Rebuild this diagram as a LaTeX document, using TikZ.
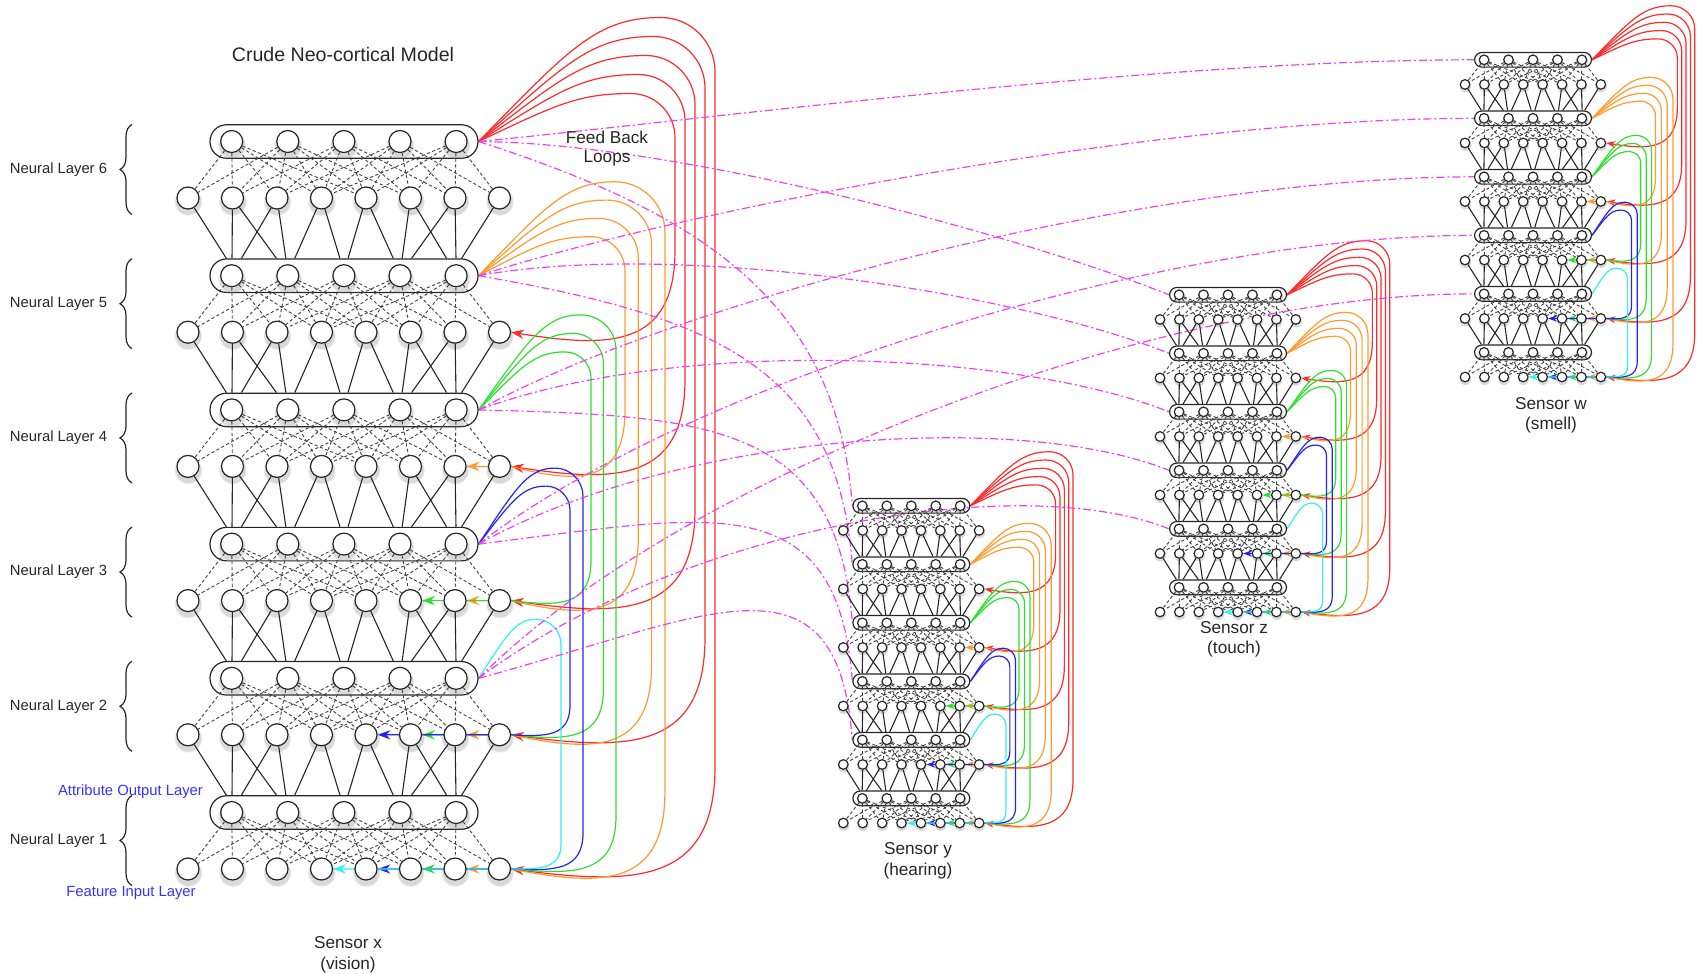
\documentclass[tikz,border=0pt]{standalone}
\usepackage{fontspec}
\setmainfont{Liberation Sans}
\usetikzlibrary{arrows.meta, positioning, calc, shadows, decorations.pathreplacing}

\definecolor{lred}{HTML}{FF2A2A}
\definecolor{lorange}{HTML}{FF9A2E}
\definecolor{lgreen}{HTML}{2EE02E}
\definecolor{lblue}{HTML}{2424F0}
\definecolor{lcyan}{HTML}{30F0F0}
\definecolor{lmagenta}{HTML}{F040F0}
\definecolor{labblue}{HTML}{3333FF}

\pgfdeclarelayer{back}
\pgfsetlayers{back,main}

\tikzset{
  unit/.style={circle, draw=black!85, line width=0.6pt, fill=white, inner sep=0pt,
    minimum size=\s*11pt,
    circular drop shadow={shadow xshift=0pt, shadow yshift=\shy pt, shadow scale=1.3, opacity=0.3}},
  outbox/.style={rectangle, draw=black!85, line width=0.6pt, inner sep=0pt,
    minimum width=\s*134pt, minimum height=\s*16.75pt, rounded corners=\s*8.3pt},
  link/.style={black!75, line width=0.45pt, dash pattern=on 1.6pt off 1.2pt},
  wire/.style={black!85, line width=0.55pt},
  fbloop/.style={draw=#1, line width=0.6pt, -{Stealth[length=\arl pt, width=\arw pt]}},
  feed/.style={lmagenta, line width=0.6pt, dash pattern=on 4pt off 1.5pt on 1pt off 1.5pt},
  lbl/.style={text=black!85, font=\fontsize{7.4pt}{9pt}\selectfont, inner sep=0pt},
  sensor/.style={text=black!85, font=\fontsize{8.6pt}{10pt}\selectfont, inner sep=0pt},
  brace/.style={decorate, decoration={brace, amplitude=6pt}, line width=0.6pt, black!85}
}

% feedback loops of one stack (uses \ox, \oy, \s)
\newcommand\drawloops[1]{%
  \pgfmathsetmacro\arl{3.2+3.2*\s}%
  \pgfmathsetmacro\arw{2.3+2.3*\s}%
  \foreach \ly/\col/\pa/\pb/\pc/\qa/\qb/\qc/\dd in {6/lred/153/48/197/7.5/19/10/8,5/lorange/113/39/147/8/18.3/13.3/9,4/lgreen/87/58/113/8/18.5/12.5/3,3/lblue/68/58/92/9/18/13/1,2/lcyan/58/59/83/0/0/0/0}{%
    \pgfmathtruncatemacro\kmax{\ly-1}%
    \pgfmathtruncatemacro\tc{\ly+2}%
    \pgfmathsetmacro\Sx{\ox+\s*290}%
    \pgfmathsetmacro\Sy{\oy-\s*((\ly-1)*134.2+56.5)}%
    \foreach \k in {1,...,\kmax}{%
      \pgfmathtruncatemacro\Tl{\ly-\k}%
      \pgfmathsetmacro\pdx{\s*(\pa+\qa*(\k-1))}%
      \pgfmathsetmacro\ph{\s*(\pb+\qb*(\k-1))}%
      \pgfmathsetmacro\Xv{\Sx+\s*(\pc+\qc*(\k-1))}%
      \pgfmathsetmacro\rr{\Xv-\Sx-\pdx}%
      \pgfmathsetmacro\Ty{\oy-\s*(\Tl-1)*134.2}%
      \pgfmathsetmacro\Xe{\ox+\s*322.5}%
      \pgfmathsetmacro\Rr{0.5*(\Xv-\Xe)}%
      \pgfmathsetmacro\Yb{\Ty+2*\s*\dd}%
      \ifnum\tc=8 \def\tail{}\else\edef\tail{-- (#1-\Tl-i\tc.east)}\fi
      \draw[fbloop=\col] (#1-\ly-o.east)
        .. controls ({\Sx+0.5*\pdx},{\Sy-0.75*\ph}) and ({\Sx+0.65*\pdx},{\Sy-\ph}) .. ({\Sx+\pdx},{\Sy-\ph})
        .. controls ({\Sx+\pdx+0.55*\rr},{\Sy-\ph}) and ({\Xv},{\Sy-\ph+0.45*\rr}) .. ({\Xv},{\Sy-\ph+\rr})
        -- ({\Xv},{\Ty-\Rr})
        .. controls ({\Xv},{\Yb}) and ({\Xe+0.6*(\Xv-\Xe)},{\Yb}) .. (#1-\Tl-i8.east) \tail;
    }
  }
}

% one sensor stack: name, x and y of the lowest left unit, scale
\newcommand\drawstack[4]{%
  \def\ox{#2}\def\oy{#3}\def\s{#4}%
  \pgfmathsetmacro\shy{-1.2*#4-0.2}%
  \foreach \ly in {1,...,6}{%
    \node[outbox] (#1-\ly-o) at ({\ox+\s*156},{\oy-\s*((\ly-1)*134.2+56.5)}) {};
    \foreach \i in {1,...,8}
      \node[unit] (#1-\ly-i\i) at ({\ox+\s*(\i-1)*44.5},{\oy-\s*(\ly-1)*134.2}) {};
    \foreach \j in {1,...,5}
      \node[unit] (#1-\ly-o\j) at ({\ox+\s*(43.7+(\j-1)*56.1)},{\oy-\s*((\ly-1)*134.2+56.5)}) {};
    \foreach \j/\lst in {1/{1,...,5},2/{1,...,6},3/{2,...,7},4/{3,...,8},5/{4,...,8}}
      \foreach \i in \lst
        \draw[link] (#1-\ly-o\j) -- (#1-\ly-i\i);
  }
  \foreach \ly in {1,...,5}{%
    \pgfmathtruncatemacro\lup{\ly+1}%
    \foreach \i/\pos in {1/0.063,2/0.084,2/0.249,3/0.119,3/0.284,4/0.317,4/0.485,5/0.515,5/0.683,6/0.716,6/0.881,7/0.751,7/0.916,8/0.937}
      \draw[wire] (#1-\lup-i\i) -- ($(#1-\ly-o.north west)!\pos!(#1-\ly-o.north east)$);
  }
  \begin{pgfonlayer}{back}
    \drawloops{#1}
  \end{pgfonlayer}
}

\begin{document}
\begin{tikzpicture}[x=0.5pt, y=-0.5pt]
  \useasboundingbox (0,0) rectangle (1703,974);

  % the four sensor stacks
  \drawstack{vis}{188}{869}{1}
  \drawstack{hear}{843.3}{823}{0.436}
  \drawstack{touch}{1160}{612}{0.436}
  \drawstack{smell}{1465}{377}{0.436}

  % feed back loops between the sensors
  \begin{pgfonlayer}{back}
    \foreach \ly in {2,...,6}{
      \pgfmathsetmacro\Sy{869-(\ly-1)*134.2-56.5}
      \pgfmathsetmacro\ch{0.45*(823-0.436*((\ly-1)*134.2+56.5)-\Sy)-90}
      \pgfmathsetmacro\cz{0.5*(612-0.436*((\ly-1)*134.2+56.5)-\Sy)-75}
      \pgfmathsetmacro\cw{0.6*(377-0.436*((\ly-1)*134.2+56.5)-\Sy)+30}
      \draw[feed] (vis-\ly-o.east) .. controls +(230,\ch) and +(-15,-200) .. (hear-\ly-o.west);
      \draw[feed] (vis-\ly-o.east) .. controls +(200,\cz) and +(-150,-60) .. (touch-\ly-o.west);
      \draw[feed] (vis-\ly-o.east) .. controls +(200,\cw) and +(-320,0) .. (smell-\ly-o.west);
    }
  \end{pgfonlayer}

  % layer names and braces
  \foreach \ly in {1,...,6}{
    \pgfmathsetmacro\ym{869-(\ly-1)*134.2-28.5}
    \node[lbl] (nl\ly) at (58.5,\ym) {Neural Layer \ly};
    \draw[brace] (132,{\ym+45}) -- (132,{\ym-45});
  }
  \node[lbl, text=labblue] (aol) at (130.5,792) {Attribute Output Layer};
  \node[lbl, text=labblue] (fil) at (131,893) {Feature Input Layer};

  % texts
  \node[text=black!85, font=\fontsize{9.8pt}{12pt}\selectfont, inner sep=0pt] (title) at (343,54) {Crude Neo-cortical Model};
  \node[sensor] (fb1) at (607,137) {Feed Back};
  \node[sensor] (fb2) at (607,158) {Loops};
  \node[sensor] (sx1) at (348,943) {Sensor x};
  \node[sensor] (sx2) at (348,965) {(vision)};
  \node[sensor] (sy1) at (918,850) {Sensor y};
  \node[sensor] (sy2) at (918,871.5) {(hearing)};
  \node[sensor] (sz1) at (1234,628) {Sensor z};
  \node[sensor] (sz2) at (1234,649.5) {(touch)};
  \node[sensor] (sw1) at (1551,404) {Sensor w};
  \node[sensor] (sw2) at (1551,425) {(smell)};
\end{tikzpicture}
\end{document}
